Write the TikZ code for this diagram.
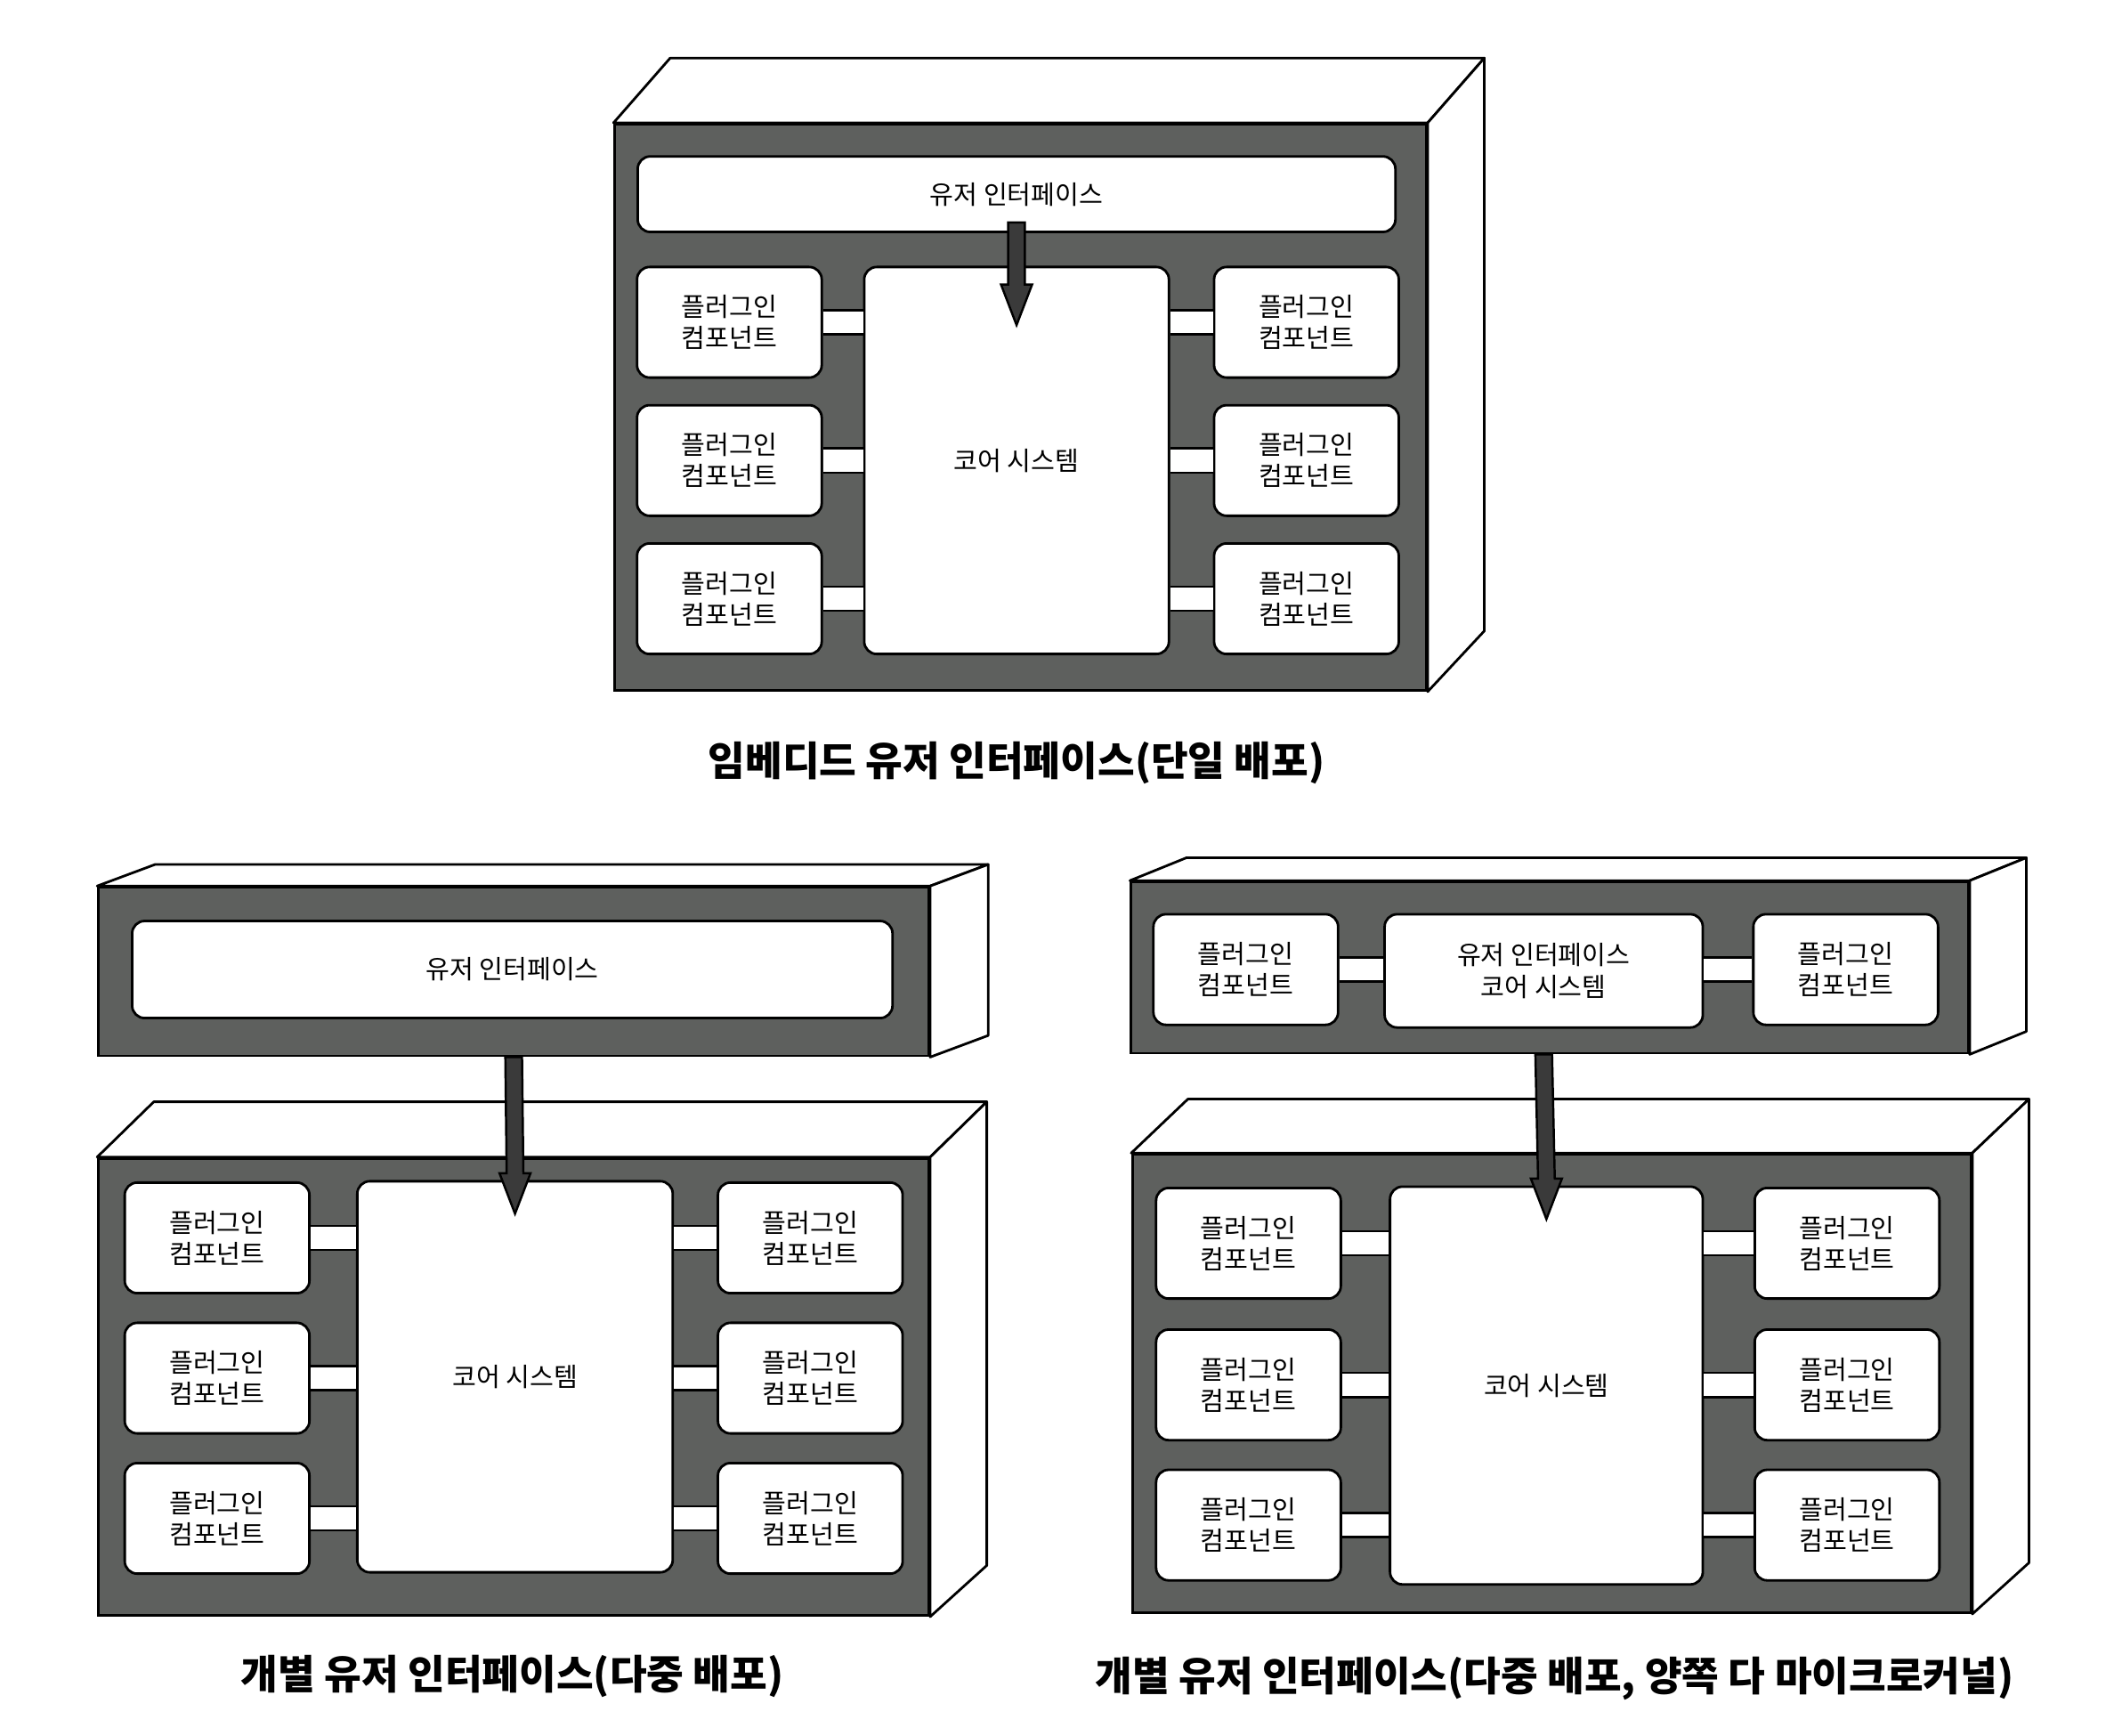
\documentclass[tikz,border=0pt]{standalone}
\usepackage{fontspec}
\setmainfont{Noto Sans CJK KR}
\usetikzlibrary{positioning}
\usetikzlibrary{calc}

\definecolor{facegray}{HTML}{5E605E}
\definecolor{arrowgray}{HTML}{3A3A3A}
\def\u{0.015147cm}

\begin{document}
\begin{tikzpicture}[x=0.015147cm, y=-0.015147cm,
	frontface/.style={draw, line width={0.8pt}, fill=facegray, rectangle, inner sep=0pt},
	sideface/.style={draw, line width={0.8pt}, fill=white, line join=round},
	plugin/.style={draw, line width={0.8pt}, fill=white, rounded corners=4pt, inner sep=0pt, minimum width=137*\u, minimum height=82*\u, align=center, font=\fontsize{8.3}{10}\selectfont},
	corebox/.style={draw, line width={0.8pt}, fill=white, rounded corners=4pt, inner sep=0pt, align=center, font=\fontsize{8.3}{10}\selectfont},
	link/.style={draw=black, line width={0.75pt}, double=white, double distance=7pt},
	uiarrow/.style={draw=black, line width={0.7pt}, fill=arrowgray, line join=miter,
		to path={($(\tikztostart)+(-6.2,0)$) -- ($(\tikztotarget)+(-6.2,-30)$) -- ($(\tikztotarget)+(-11.5,-30)$) -- (\tikztotarget) -- ($(\tikztotarget)+(11.5,-30)$) -- ($(\tikztotarget)+(6.2,-30)$) -- ($(\tikztostart)+(6.2,0)$) -- cycle}},
	captext/.style={font=\fontsize{12.9}{15}\selectfont\bfseries}]
	\useasboundingbox (0,0) rectangle (1568,1287);

	% embedded UI, single deployment
	\node[frontface, minimum width=602*\u, minimum height=420*\u] (box-0) at (757,302) {};
	\draw[sideface] (box-0.north west) -- ++(42,-48) -- ($(box-0.north east)+(42,-48)$) -- (box-0.north east) -- cycle;
	\draw[sideface] (box-0.north east) -- ++(42,-48) -- ($(box-0.south east)+(42,-45)$) -- (box-0.south east) -- cycle;
	\node[corebox, minimum width=562*\u, minimum height=56*\u] (ui-0) at (754,144) {유저 인터페이스};
	\node[corebox, minimum width=226*\u, minimum height=287*\u] (core-0) at (754,341.5) {코어 시스템};
	\node[plugin] (plug-0-l1) at (541,239) {플러그인\\컴포넌트};
	\node[plugin] (plug-0-l2) at (541,341.5) {플러그인\\컴포넌트};
	\node[plugin] (plug-0-l3) at (541,444) {플러그인\\컴포넌트};
	\node[plugin] (plug-0-r1) at (969,239) {플러그인\\컴포넌트};
	\node[plugin] (plug-0-r2) at (969,341.5) {플러그인\\컴포넌트};
	\node[plugin] (plug-0-r3) at (969,444) {플러그인\\컴포넌트};
	\draw[link] (plug-0-l1.east) -- (plug-0-l1.east -| core-0.west);
	\draw[link] (plug-0-l2.east) -- (plug-0-l2.east -| core-0.west);
	\draw[link] (plug-0-l3.east) -- (plug-0-l3.east -| core-0.west);
	\draw[link] (plug-0-r1.west) -- (plug-0-r1.west -| core-0.east);
	\draw[link] (plug-0-r2.west) -- (plug-0-r2.west -| core-0.east);
	\draw[link] (plug-0-r3.west) -- (plug-0-r3.west -| core-0.east);
	\coordinate (arr-0-s) at ($(ui-0.south)+(0,-8)$);
	\coordinate (arr-0-t) at ($(core-0.north)+(0,44)$);
	\draw[uiarrow] (arr-0-s) to (arr-0-t);
	\node[captext] (cap-0) at (754,566) {임베디드 유저 인터페이스(단일 배포)};

	% separate UI, multiple deployment
	\node[frontface, minimum width=616*\u, minimum height=125*\u] (slab-1) at (381,720.5) {};
	\draw[sideface] (slab-1.north west) -- ++(43,-16) -- ($(slab-1.north east)+(43,-16)$) -- (slab-1.north east) -- cycle;
	\draw[sideface] (slab-1.north east) -- ++(43,-16) -- ($(slab-1.south east)+(43,-16)$) -- (slab-1.south east) -- cycle;
	\node[corebox, minimum width=564*\u, minimum height=72*\u] (ui-1) at (380,719) {유저 인터페이스};
	\node[frontface, minimum width=616*\u, minimum height=339*\u] (box-1) at (381,1028.5) {};
	\draw[sideface] (box-1.north west) -- ++(42,-41) -- ($(box-1.north east)+(42,-41)$) -- (box-1.north east) -- cycle;
	\draw[sideface] (box-1.north east) -- ++(42,-41) -- ($(box-1.south east)+(42,-38)$) -- (box-1.south east) -- cycle;
	\node[corebox, minimum width=234*\u, minimum height=290*\u] (core-1) at (382,1021) {코어 시스템};
	\node[plugin] (plug-1-l1) at (161,918) {플러그인\\컴포넌트};
	\node[plugin] (plug-1-l2) at (161,1022) {플러그인\\컴포넌트};
	\node[plugin] (plug-1-l3) at (161,1126) {플러그인\\컴포넌트};
	\node[plugin] (plug-1-r1) at (601,918) {플러그인\\컴포넌트};
	\node[plugin] (plug-1-r2) at (601,1022) {플러그인\\컴포넌트};
	\node[plugin] (plug-1-r3) at (601,1126) {플러그인\\컴포넌트};
	\draw[link] (plug-1-l1.east) -- (plug-1-l1.east -| core-1.west);
	\draw[link] (plug-1-l2.east) -- (plug-1-l2.east -| core-1.west);
	\draw[link] (plug-1-l3.east) -- (plug-1-l3.east -| core-1.west);
	\draw[link] (plug-1-r1.west) -- (plug-1-r1.west -| core-1.east);
	\draw[link] (plug-1-r2.west) -- (plug-1-r2.west -| core-1.east);
	\draw[link] (plug-1-r3.west) -- (plug-1-r3.west -| core-1.east);
	\coordinate (arr-1-s) at (slab-1.south);
	\coordinate (arr-1-t) at ($(core-1.north)+(0,25)$);
	\draw[uiarrow] (arr-1-s) to (arr-1-t);
	\node[captext] (cap-1) at (380,1243) {개별 유저 인터페이스(다중 배포)};

	% separate UI, multiple deployment, microkernel on both sides
	\node[frontface, minimum width=621*\u, minimum height=127*\u] (slab-2) at (1149.5,717.5) {};
	\draw[sideface] (slab-2.north west) -- ++(42,-17) -- ($(slab-2.north east)+(42,-17)$) -- (slab-2.north east) -- cycle;
	\draw[sideface] (slab-2.north east) -- ++(42,-17) -- ($(slab-2.south east)+(42,-17)$) -- (slab-2.south east) -- cycle;
	\node[corebox, minimum width=236*\u, minimum height=84*\u] (ui-2) at (1145,720) {유저 인터페이스\\코어 시스템};
	\node[plugin] (plug-2-t1) at (924,719) {플러그인\\컴포넌트};
	\node[plugin] (plug-2-t2) at (1369,719) {플러그인\\컴포넌트};
	\draw[link] (plug-2-t1.east) -- (plug-2-t1.east -| ui-2.west);
	\draw[link] (plug-2-t2.west) -- (plug-2-t2.west -| ui-2.east);
	\node[frontface, minimum width=622*\u, minimum height=340*\u] (box-2) at (1151,1026) {};
	\draw[sideface] (box-2.north west) -- ++(42,-40) -- ($(box-2.north east)+(42,-40)$) -- (box-2.north east) -- cycle;
	\draw[sideface] (box-2.north east) -- ++(42,-40) -- ($(box-2.south east)+(42,-38)$) -- (box-2.south east) -- cycle;
	\node[corebox, minimum width=232*\u, minimum height=295*\u] (core-2) at (1147,1027.5) {코어 시스템};
	\node[plugin] (plug-2-l1) at (926,922) {플러그인\\컴포넌트};
	\node[plugin] (plug-2-l2) at (926,1027) {플러그인\\컴포넌트};
	\node[plugin] (plug-2-l3) at (926,1131) {플러그인\\컴포넌트};
	\node[plugin] (plug-2-r1) at (1370,922) {플러그인\\컴포넌트};
	\node[plugin] (plug-2-r2) at (1370,1027) {플러그인\\컴포넌트};
	\node[plugin] (plug-2-r3) at (1370,1131) {플러그인\\컴포넌트};
	\draw[link] (plug-2-l1.east) -- (plug-2-l1.east -| core-2.west);
	\draw[link] (plug-2-l2.east) -- (plug-2-l2.east -| core-2.west);
	\draw[link] (plug-2-l3.east) -- (plug-2-l3.east -| core-2.west);
	\draw[link] (plug-2-r1.west) -- (plug-2-r1.west -| core-2.east);
	\draw[link] (plug-2-r2.west) -- (plug-2-r2.west -| core-2.east);
	\draw[link] (plug-2-r3.west) -- (plug-2-r3.west -| core-2.east);
	\coordinate (arr-2-s) at (ui-2.south |- slab-2.south);
	\coordinate (arr-2-t) at ($(core-2.north)+(0,25)$);
	\draw[uiarrow] (arr-2-s) to (arr-2-t);
	\node[captext] (cap-2) at (1153,1245) {개별 유저 인터페이스(다중 배포, 양쪽 다 마이크로커널)};
\end{tikzpicture}
\end{document}
